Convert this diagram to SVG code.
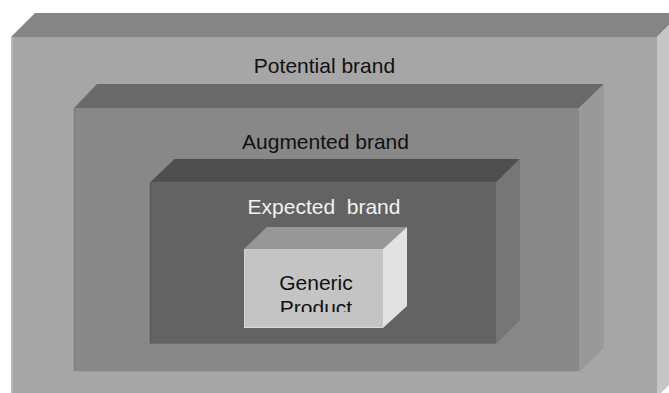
<svg xmlns="http://www.w3.org/2000/svg" width="669" height="393" viewBox="0 0 669 393">
  <style>
    .lbl { font-family: "Liberation Sans", Arial, sans-serif; font-size: 21px; text-anchor: middle; fill: #111111; }
    .light { fill: #f2f2f2; }
  </style>
  <defs>
    <clipPath id="genericFace">
      <rect x="244" y="249" width="139" height="63"/>
    </clipPath>
  </defs>

  <rect width="669" height="393" fill="#ffffff"/>

  <!-- Potential brand (outer block) -->
  <g id="potential">
    <polygon points="11,37 35,13 681,13 657,37" fill="#858585"/>
    <polygon points="657,37 681,13 681,373 657,397" fill="#c6c6c6"/>
    <rect x="11" y="37" width="646" height="360" fill="#a6a6a6"/>
    <line x1="12" y1="37" x2="12" y2="397" stroke="#bdbdbd" stroke-width="1.5"/>
    <text class="lbl" x="324.5" y="72.7">Potential brand</text>
  </g>

  <!-- Augmented brand -->
  <g id="augmented">
    <polygon points="74,108 97,84 604,84 579,108" fill="#6a6a6a"/>
    <polygon points="579,108 604,84 604,348 579,372" fill="#999999"/>
    <rect x="74" y="108" width="505" height="264" fill="#888888"/>
    <line x1="74.5" y1="108" x2="74.5" y2="372" stroke="#7c7c7c" stroke-width="1.5"/>
    <line x1="74" y1="371.5" x2="579" y2="371.5" stroke="#9e9e9e" stroke-width="1"/>
    <text class="lbl" x="325.5" y="149.3">Augmented brand</text>
  </g>

  <!-- Expected brand -->
  <g id="expected">
    <polygon points="150,182.5 174.5,159 520,159 496,182.5" fill="#4f4f4f"/>
    <polygon points="496,182.5 520,159 520,320 496,344" fill="#767676"/>
    <rect x="150" y="182.5" width="346" height="161.5" fill="#636363"/>
    <line x1="150.5" y1="182.5" x2="150.5" y2="344" stroke="#5a5a5a" stroke-width="1.5"/>
    <line x1="150" y1="343.5" x2="496" y2="343.5" stroke="#6e6e6e" stroke-width="1"/>
    <text class="lbl light" x="324" y="214" xml:space="preserve">Expected  brand</text>
  </g>

  <!-- Generic Product (core block) -->
  <g id="generic">
    <polygon points="244,249 267,227 407,227 383,249" fill="#979797"/>
    <polygon points="383,249 407,227 407,306 383,328" fill="#e2e2e2"/>
    <rect x="244" y="249" width="139" height="79" fill="#c4c4c4"/>
    <line x1="244.5" y1="249" x2="244.5" y2="328" stroke="#d4d4d4" stroke-width="1"/>
    <line x1="244" y1="327.5" x2="383" y2="327.5" stroke="#dadada" stroke-width="1"/>
    <g clip-path="url(#genericFace)">
      <text class="lbl" x="316" y="289.5">Generic</text>
      <text class="lbl" x="316" y="314.5">Product</text>
    </g>
  </g>
</svg>
